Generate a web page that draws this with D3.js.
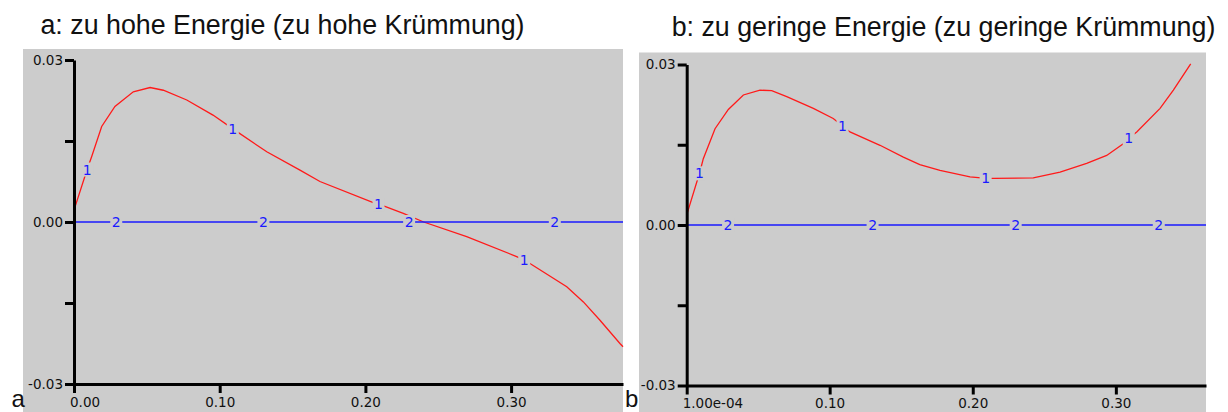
<!DOCTYPE html>
<html>
<head>
<meta charset="utf-8">
<script src="https://cdn.jsdelivr.net/npm/d3@7"></script>
<style>
  html, body { margin: 0; padding: 0; background: #ffffff; }
  svg { display: block; }
</style>
</head>
<body>
<svg id="chart" width="1228" height="412"></svg>
<script>
// ---------------- data ----------------
const titles = ["a: zu hohe Energie (zu hohe Krümmung)", "b: zu geringe Energie (zu geringe Krümmung)"];
const panelLetters = ["a", "b"];

const yTicks = [-0.03, -0.015, 0, 0.015, 0.03];
const yTickLabels = ["-0.03", "", "0.00", "", "0.03"];

const aXTicks = [0, 0.1, 0.2, 0.3];
const aXTickLabels = ["0.00", "0.10", "0.20", "0.30"];
const bXTicks = [0.0001, 0.1, 0.2, 0.3];
const bXTickLabels = ["1.00e-04", "0.10", "0.20", "0.30"];

// series 1 (red) panel a
const aX1 = [0, 0.0091, 0.0121, 0.019, 0.0281, 0.0407, 0.0522, 0.0613, 0.0774, 0.0954, 0.1093, 0.1323, 0.1551, 0.1688, 0.2054, 0.2093, 0.226, 0.240, 0.2695, 0.3038, 0.3089, 0.3382, 0.3496, 0.361, 0.3747, 0.3768];
const aY1 = [0.0022, 0.0098, 0.0121, 0.0177, 0.0214, 0.0241, 0.0249, 0.0244, 0.0226, 0.0198, 0.0172, 0.0130, 0.0096, 0.0075, 0.0036, 0.0033, 0.0016, 0, -0.0027, -0.0064, -0.0070, -0.0120, -0.0148, -0.0182, -0.0225, -0.0231];
// series 2 (blue) panel a
const aX2 = [0, 0.3768];
const aY2 = [0, 0];

// series 1 (red) panel b
const bX1 = [0.0001, 0.0094, 0.0117, 0.0199, 0.0292, 0.0397, 0.0513, 0.0595, 0.07, 0.0886, 0.1025, 0.1091, 0.1142, 0.1352, 0.1515, 0.163, 0.1771, 0.1981, 0.2097, 0.2150, 0.2423, 0.261, 0.2796, 0.2936, 0.3052, 0.3094, 0.3146, 0.3309, 0.3402, 0.3523];
const bY1 = [0.0019, 0.0100, 0.0124, 0.0180, 0.0216, 0.0243, 0.0252, 0.0251, 0.0240, 0.0218, 0.0199, 0.0185, 0.0174, 0.0149, 0.0127, 0.0113, 0.0102, 0.0090, 0.0087, 0.0087, 0.0088, 0.0099, 0.0115, 0.0130, 0.0152, 0.0163, 0.0174, 0.0218, 0.0252, 0.0301];
// series 2 (blue) panel b
const bX2 = [0.0001, 0.3630];
const bY2 = [0, 0];

// curve label positions
const label1X = [0.009, 0.109, 0.209, 0.309];
const label2X = [0.029, 0.13, 0.23, 0.33];

// ---------------- layout ----------------
const svg = d3.select("#chart");
const BG = "#cccccc";
const tickFont = "'DejaVu Sans', Verdana, sans-serif";
const titleFont = "'Liberation Sans', Arial, Helvetica, sans-serif";

const panels = [
  { bg: [23, 49, 623, 412], xDom: [0, 0.3768], xRange: [74, 623], yRange: [384, 60],
    xTicks: aXTicks, xLabels: aXTickLabels, x1: aX1, y1: aY1, x2: aX2, y2: aY2,
    title: titles[0], titleX: 282.5, titleY: 33.5, letter: panelLetters[0], letterX: 11.5 },
  { bg: [639, 52.5, 1206, 412], xDom: [0.0001, 0.3630], xRange: [686.7, 1206], yRange: [385.5, 64.5],
    xTicks: bXTicks, xLabels: bXTickLabels, x1: bX1, y1: bY1, x2: bX2, y2: bY2,
    title: titles[1], titleX: 943.5, titleY: 36, letter: panelLetters[1], letterX: 625 }
];

panels.forEach(p => {
  const g = svg.append("g");
  g.append("rect")
    .attr("x", p.bg[0]).attr("y", p.bg[1])
    .attr("width", p.bg[2] - p.bg[0]).attr("height", p.bg[3] - p.bg[1])
    .attr("fill", BG);

  g.append("text")
    .attr("x", p.titleX).attr("y", p.titleY)
    .attr("text-anchor", "middle")
    .attr("font-family", titleFont).attr("font-size", 26.8)
    .attr("fill", "#111")
    .text(p.title);

  g.append("text")
    .attr("x", p.letterX).attr("y", 406.5)
    .attr("font-family", titleFont).attr("font-size", 24)
    .attr("fill", "#111")
    .text(p.letter);

  const x = d3.scaleLinear().domain(p.xDom).range(p.xRange);
  const y = d3.scaleLinear().domain([-0.03, 0.03]).range(p.yRange);

  const line = d3.line().x(d => x(d[0])).y(d => y(d[1]));
  const s1 = p.x1.map((v, i) => [v, p.y1[i]]);
  const s2 = p.x2.map((v, i) => [v, p.y2[i]]);

  g.append("path").datum(s1).attr("d", line)
    .attr("fill", "none").attr("stroke", "#ff1a1a").attr("stroke-width", 1.3);
  g.append("path").datum(s2).attr("d", line)
    .attr("fill", "none").attr("stroke", "#1a1aff").attr("stroke-width", 1.6);

  // interpolated label positions
  function interp(xs, ys, xv) {
    const i = d3.bisectRight(xs, xv);
    if (i <= 0) return ys[0];
    if (i >= xs.length) return ys[ys.length - 1];
    const t = (xv - xs[i - 1]) / (xs[i] - xs[i - 1]);
    return ys[i - 1] + t * (ys[i] - ys[i - 1]);
  }
  const labels = [];
  label1X.forEach(v => labels.push({ x: v, y: interp(p.x1, p.y1, v), t: "1" }));
  label2X.forEach(v => labels.push({ x: v, y: interp(p.x2, p.y2, v), t: "2" }));

  const lg = g.selectAll("g.lbl").data(labels).join("g").attr("class", "lbl")
    .attr("transform", d => `translate(${x(d.x)},${y(d.y)})`);
  lg.append("rect").attr("x", -6).attr("y", -7).attr("width", 12).attr("height", 14).attr("fill", BG);
  lg.append("text")
    .attr("text-anchor", "middle").attr("dy", "0.36em")
    .attr("font-family", tickFont).attr("font-size", 14)
    .attr("fill", "#1a1aff")
    .text(d => d.t);

  // axes
  const yAxis = d3.axisLeft(y).tickValues(yTicks)
    .tickFormat((d, i) => yTickLabels[i]).tickSize(9).tickSizeOuter(0).tickPadding(2);
  const yG = g.append("g").attr("transform", `translate(${p.xRange[0]},0)`).call(yAxis);

  const xAxis = d3.axisBottom(x).tickValues(p.xTicks)
    .tickFormat((d, i) => p.xLabels[i]).tickSize(9).tickSizeOuter(0).tickPadding(4);
  const xG = g.append("g").attr("transform", `translate(0,${p.yRange[0]})`).call(xAxis);

  [yG, xG].forEach(ax => {
    ax.select(".domain").attr("stroke", "#000").attr("stroke-width", 3);
    ax.selectAll(".tick line").attr("stroke", "#000").attr("stroke-width", 3);
    ax.selectAll(".tick text").attr("font-family", tickFont).attr("font-size", 13.5).attr("fill", "#111");
  });
  xG.selectAll(".tick text").filter((d, i) => i === 0)
    .attr("text-anchor", "start").attr("x", -4.5);
});
</script>
</body>
</html>
